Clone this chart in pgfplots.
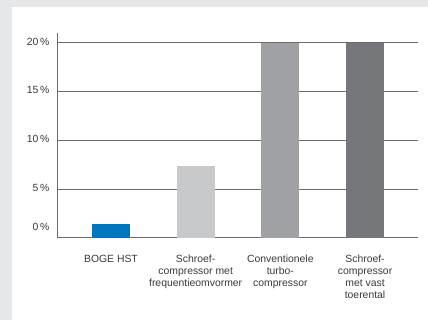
\documentclass[border=0pt]{standalone}
\usepackage{pgfplots}
\pgfplotsset{compat=1.18}
\usepackage{fontspec}
\setmainfont{Liberation Sans}
\definecolor{bg}{HTML}{E6E7E8}
\definecolor{txt}{HTML}{3A3A3A}
\definecolor{gridc}{HTML}{6A6B6E}
\definecolor{c1}{HTML}{0075BF}
\definecolor{c2}{HTML}{C8C9CB}
\definecolor{c3}{HTML}{A0A1A5}
\definecolor{c4}{HTML}{76777B}
\begin{document}
\fontsize{10.4bp}{12bp}\selectfont
\begin{tikzpicture}
\fill[bg] (0,0) rectangle (428bp,320bp);
\fill[white] (12bp,0) rectangle (428bp,312.5bp);
\useasboundingbox (0,0) rectangle (428bp,320bp);
\begin{axis}[
  at={(58bp,82.3bp)}, anchor=south west,
  scale only axis, width=360bp, height=205bp,
  xmin=-0.625, xmax=3.625, ymin=0, ymax=21.05,
  axis x line*=bottom, axis y line*=left,
  axis line style={gridc, line width=1bp},
  major tick length=0pt,
  ytick={0,5,10,15,20},
  yticklabels={,5\,\%,10\,\%,15\,\%,20\,\%},
  extra y ticks={0.95},
  extra y tick labels={0\,\%},
  extra y tick style={grid=none},
  ymajorgrids,
  grid style={gridc, line width=1bp},
  yticklabel style={font=\fontsize{10.4bp}{12bp}\selectfont, text=txt, xshift=-5bp, yshift=1.5bp},
  xtick={0,1,2,3},
  xticklabels={BOGE HST, {Schroef-\\compressor met\\frequentieomvormer}, {Conventionele\\turbo-\\compressor}, {Schroef-\\compressor\\met vast\\toerental}},
  xticklabel style={font=\fontsize{10.4bp}{12bp}\selectfont, text=txt, align=center, yshift=-13.5bp},
  ybar, bar width=38bp, bar shift=0pt,
]
\addplot[fill=c1, draw=none] coordinates {(0,1.4)};
\addplot[fill=c2, draw=none] coordinates {(1,7.4)};
\addplot[fill=c3, draw=none] coordinates {(2,20)};
\addplot[fill=c4, draw=none] coordinates {(3,20)};
\end{axis}
\end{tikzpicture}
\end{document}
